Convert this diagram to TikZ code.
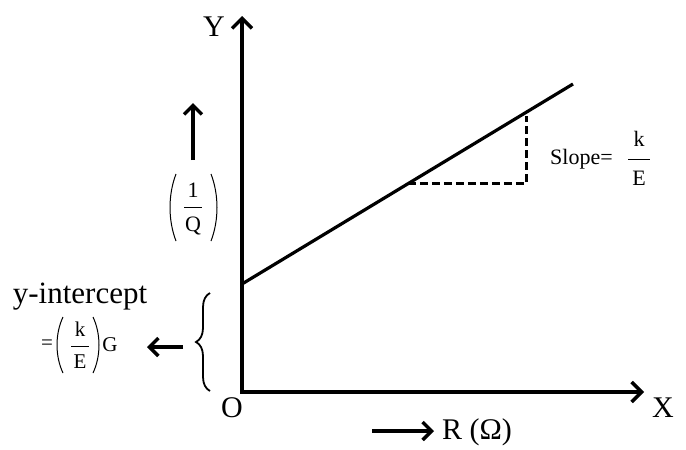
\documentclass[tikz,border=0pt]{standalone}
\usepackage{fontspec}
\setmainfont{Liberation Serif}
\usetikzlibrary{arrows.meta,decorations.pathreplacing,calc}
\begin{document}
\begin{tikzpicture}[x=1pt,y=-1pt,
  axis/.style={line width=3.5pt,line join=miter,
    {Straight Barb[length=10pt,width=20pt,line width=3.5pt]}-{Straight Barb[length=10pt,width=20pt,line width=3.5pt]}},
  arr/.style={line width=3.2pt,-{Straight Barb[length=9pt,width=18pt,line width=3.5pt]}},
  graph/.style={line width=3.2pt},
  dash line/.style={line width=3pt,dash pattern=on 8pt off 4pt},
  big/.style={font=\fontsize{30}{32}\selectfont,inner sep=0pt},
  mid/.style={font=\fontsize{22}{24}\selectfont,inner sep=0pt},
  small/.style={font=\fontsize{21}{23}\selectfont,inner sep=0pt},
  thin/.style={line width=1pt},
]
\useasboundingbox (0,0) rectangle (686,450);
% axes
\coordinate (O) at (242,392);
\coordinate (Ytip) at (242,16);
\coordinate (Xtip) at (644,392);
\draw[axis] (Ytip) -- (O) -- (Xtip);
\node[big] (Ylab) at (214,27) {Y};
\node[big] (Xlab) at (663,408) {X};
\node[big] (Olab) at (232,408) {O};
% graph line
\coordinate (A) at (242,284);
\coordinate (B) at (573,84);
\draw[graph] (A) -- (B);
\coordinate (P) at ($(A)!{(408-242)/331}!(B)$);
\coordinate (Q) at ($(A)!{(526-242)/331}!(B)$);
\coordinate (Qt) at ($(Q)+(0,4)$);
\coordinate (C) at (Q|-P);
\draw[dash line] (P) -- (C) -- (Qt);
% slope label
\node[mid,anchor=west] (slope) at (550,159) {Slope=};
\node[mid] (sk) at (639,139) {k};
\node[mid] (sE) at (639,178) {E};
\draw[thin] (628,159) -- (650,159);
% y-axis quantity
\coordinate (ua1) at (193,160);
\coordinate (ua2) at (193,103);
\draw[arr] (ua1) -- (ua2);
\node[mid] (one) at (193,190) {1};
\node[mid] (Qlab) at (193,226) {Q};
\draw[thin] (184,207) -- (202,207);
\draw[thin] (176,174) .. controls (168,195) and (168,220) .. (176,241);
\draw[thin] (211,174) .. controls (219,195) and (219,220) .. (211,241);
% x-axis quantity
\coordinate (ba1) at (372,431);
\coordinate (ba2) at (434,431);
\draw[arr] (ba1) -- (ba2);
\node[big,anchor=west] (Rlab) at (442,432) {R (Ω)};
% y-intercept
\draw[line width=1.8pt,decorate,decoration={brace,amplitude=14pt}] (210,391) -- (210,293);
\coordinate (la1) at (183,347);
\coordinate (la2) at (147,347);
\draw[arr] (la1) -- (la2);
\node[big,anchor=base,font=\fontsize{31}{33}\selectfont] (yint) at (80,303) {y-intercept};
\node[small] (eq) at (47,345) {=};
\node[small] (ik) at (80,329) {k};
\node[small] (iE) at (80,362) {E};
\draw[thin] (71,346) -- (89,346);
\draw[thin] (63,317) .. controls (55,334) and (55,356) .. (63,373);
\draw[thin] (93,317) .. controls (101,334) and (101,356) .. (93,373);
\node[small] (G) at (110,345) {G};
\end{tikzpicture}
\end{document}
